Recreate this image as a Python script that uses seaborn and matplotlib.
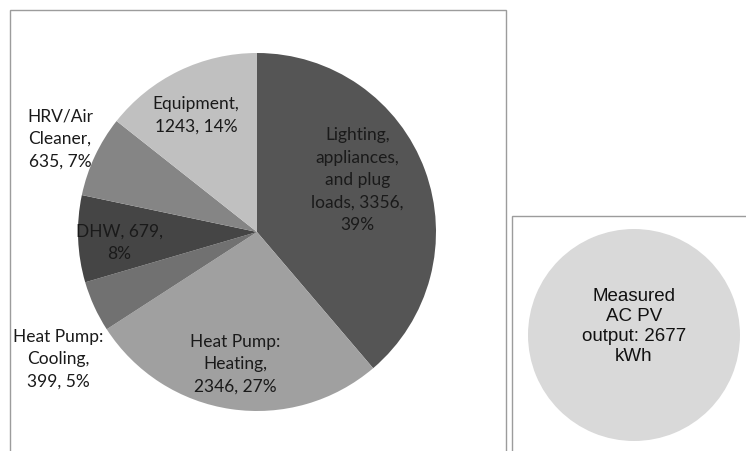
import matplotlib
matplotlib.use("Agg")
import matplotlib.pyplot as plt
import matplotlib.patches as patches
import seaborn as sns

# energy use by end use (kWh)
categories = ["Lighting,\nappliances,\nand plug\nloads", "Heat Pump:\nHeating", "Heat Pump:\nCooling",
              "DHW", "HRV/Air\nCleaner", "Equipment"]
kwh = [3356, 2346, 399, 679, 635, 1243]
pct = [39, 27, 5, 8, 7, 14]
slice_colors = ["#555555", "#a0a0a0", "#717171", "#454545", "#858585", "#c0c0c0"]

pv_output = 2677

# label text placement, in pie radius units
label_xy = [(0.56, 0.29), (-0.12, -0.74), (-1.11, -0.71), (-0.77, -0.06), (-1.10, 0.52), (-0.34, 0.65)]

sns.set_theme(style="white")
plt.rcParams["font.family"] = ["Lato", "DejaVu Sans"]

fig = plt.figure(figsize=(7.46, 4.51), dpi=100)
W, H = 746, 451

# chart frames
fig.patches.append(patches.Rectangle((10 / W, -0.1), 496 / W, 1 - 10 / H + 0.1, transform=fig.transFigure,
                                     fill=False, edgecolor="#9c9c9c", linewidth=1))
fig.patches.append(patches.Rectangle((512 / W, -0.1), 0.5, 1 - 216 / H + 0.1, transform=fig.transFigure,
                                     fill=False, edgecolor="#9c9c9c", linewidth=1))

ax = fig.add_axes([78 / W, 40 / H, 358 / W, 358 / H])
ax.pie(kwh, colors=slice_colors, startangle=90, counterclock=False, radius=1,
       wedgeprops=dict(linewidth=0))
ax.set_xlim(-1, 1)
ax.set_ylim(-1, 1)
ax.set_aspect("auto")
for name, v, p, (x, y) in zip(categories, kwh, pct, label_xy):
    if name.startswith("Lighting"):
        txt = "Lighting,\nappliances,\nand plug\nloads, %d,\n%d%%" % (v, p)
    elif name == "DHW":
        txt = "DHW, %d,\n%d%%" % (v, p)
    else:
        txt = "%s,\n%d, %d%%" % (name, v, p)
    ax.text(x, y, txt, ha="center", va="center", fontsize=12.5, color="#1a1a1a", linespacing=1.5)

ax2 = fig.add_axes([528 / W, 10 / H, 212 / W, 212 / H])
ax2.pie([pv_output], colors=["#d9d9d9"], radius=1, wedgeprops=dict(linewidth=0))
ax2.set_xlim(-1, 1)
ax2.set_ylim(-1, 1)
ax2.set_aspect("auto")
ax2.text(0, 0.08, "Measured\nAC PV\noutput: %d\nkWh" % pv_output, ha="center", va="center",
         fontsize=13.5, family=["Liberation Sans", "DejaVu Sans"], color="#111111", linespacing=1.25)

fig.savefig("out.png", dpi=100)
